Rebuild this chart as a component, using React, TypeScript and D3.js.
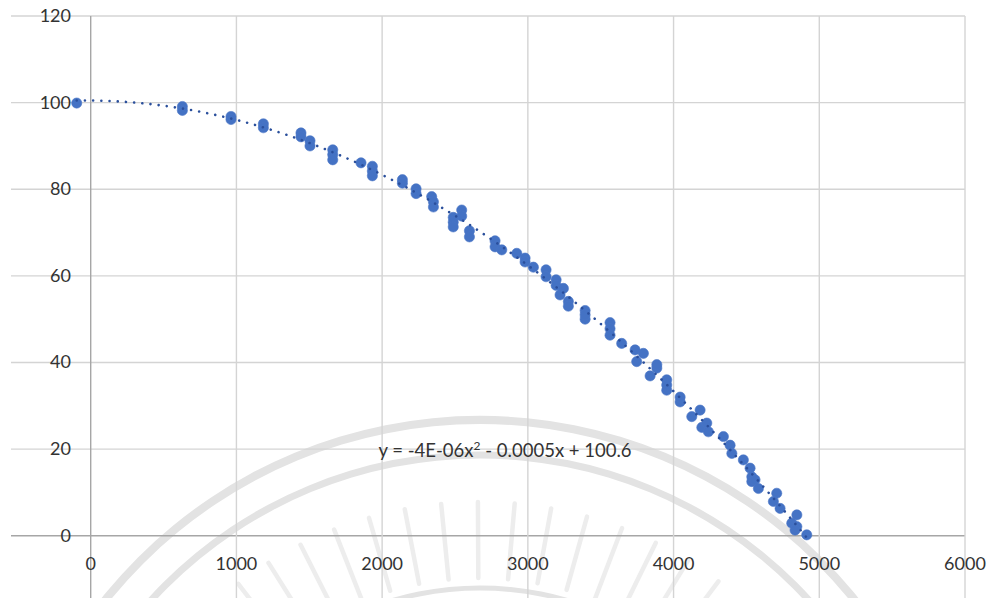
import React, { useRef, useEffect } from "react";
import * as d3 from "d3";

const fontFamily = "Lato, 'Open Sans', sans-serif";

// scatter points
const xValues = [
  -96, 629, 629, 963, 963, 1185, 1185, 1443, 1443, 1505, 1505, 1661, 1661, 1661,
  1855, 1933, 1933, 1933, 2139, 2139, 2233, 2233, 2340, 2352, 2352, 2546, 2546,
  2488, 2488, 2488, 2599, 2599, 2775, 2775, 2821, 2924, 2981, 2981, 3038, 3125,
  3125, 3194, 3194, 3244, 3221, 3278, 3278, 3393, 3393, 3393, 3564, 3564, 3564,
  3644, 3736, 3793, 3747, 3885, 3885, 3839, 3953, 3953, 3953, 4045, 4045, 4182,
  4125, 4194, 4228, 4239, 4342, 4388, 4400, 4479, 4525, 4537, 4537, 4559, 4582,
  4708, 4685, 4731, 4846, 4811, 4846, 4834, 4914
];
const yValues = [
  99.9, 99.1, 98.2, 96.8, 96.1, 95.1, 94.2, 93.0, 92.1, 91.2, 90.0, 89.1, 88.0, 86.8,
  86.1, 85.3, 84.2, 83.1, 82.2, 81.4, 80.1, 79.0, 78.3, 77.1, 75.9, 75.2, 73.8,
  73.5, 72.4, 71.3, 70.4, 69.0, 68.1, 66.7, 66.0, 65.2, 64.1, 63.2, 62.0, 61.4,
  59.8, 59.1, 57.8, 57.1, 55.6, 54.1, 53.0, 52.0, 50.0, 51.0, 49.2, 47.8, 46.3,
  44.4, 42.9, 42.1, 40.2, 38.7, 39.5, 36.9, 36.0, 33.6, 34.8, 30.9, 32.0, 29.0,
  27.5, 25.0, 26.0, 24.0, 22.9, 20.9, 19.0, 17.5, 15.6, 13.6, 12.5, 12.9, 10.9,
  9.8, 7.9, 6.3, 4.8, 2.9, 2.1, 1.3, 0.2
];

const xTicks = [0, 1000, 2000, 3000, 4000, 5000, 6000];
const yTicks = [0, 20, 40, 60, 80, 100, 120];
const equation = ["y = -4E-06x", "2", " - 0.0005x + 100.6"];

// least squares quadratic fit (Excel polynomial trendline)
function quadFit(xs: number[], ys: number[]) {
  const s = [0, 0, 0, 0, 0];
  const t = [0, 0, 0];
  xs.forEach((x, i) => {
    for (let k = 0; k < 5; k++) s[k] += Math.pow(x, k);
    for (let k = 0; k < 3; k++) t[k] += ys[i] * Math.pow(x, k);
  });
  const m = [
    [s[0], s[1], s[2], t[0]],
    [s[1], s[2], s[3], t[1]],
    [s[2], s[3], s[4], t[2]]
  ];
  for (let i = 0; i < 3; i++) {
    for (let j = i + 1; j < 3; j++) {
      const f = m[j][i] / m[i][i];
      for (let k = i; k < 4; k++) m[j][k] -= f * m[i][k];
    }
  }
  const c = [0, 0, 0];
  for (let i = 2; i >= 0; i--) {
    let v = m[i][3];
    for (let k = i + 1; k < 3; k++) v -= m[i][k] * c[k];
    c[i] = v / m[i][i];
  }
  return (x: number) => c[0] + c[1] * x + c[2] * x * x;
}

export default function App() {
  const ref = useRef<SVGSVGElement>(null);
  const width = 991;
  const height = 598;

  useEffect(() => {
    const svg = d3.select(ref.current);
    svg.selectAll("*").remove();

    const x = d3.scaleLinear().domain([0, 6000]).range([90.7, 965]);
    const y = d3.scaleLinear().domain([0, 120]).range([535.7, 16]);
    const gridLeft = 11;

    svg.append("rect").attr("width", width).attr("height", height).attr("fill", "#fff");

    // faint watermark seal
    const wm = svg.append("g").attr("transform", "translate(480,900)");
    const arc = d3.arc<any>();
    [[480, 8], [445, 7], [312, 5]].forEach(([r, w]) => {
      wm.append("path")
        .attr("d", arc({ innerRadius: r - w / 2, outerRadius: r + w / 2, startAngle: -Math.PI / 2, endAngle: Math.PI / 2 }) as string)
        .attr("fill", "#e3e3e3");
    });
    d3.range(-48, 49, 5.3).forEach(a => {
      const rad = (a * Math.PI) / 180;
      wm.append("line")
        .attr("x1", Math.sin(rad) * 398)
        .attr("y1", -Math.cos(rad) * 398)
        .attr("x2", Math.sin(rad) * 322)
        .attr("y2", -Math.cos(rad) * 322)
        .attr("stroke", "#ededed")
        .attr("stroke-width", 4.5)
        .attr("stroke-linecap", "round");
    });

    // grid
    svg.append("g")
      .selectAll("line")
      .data(yTicks)
      .join("line")
      .attr("x1", gridLeft)
      .attr("x2", x(6000))
      .attr("y1", d => y(d))
      .attr("y2", d => y(d))
      .attr("stroke", d => (d === 0 ? "#a6a6a6" : "#d4d4d4"))
      .attr("stroke-width", 1.4);
    svg.append("g")
      .selectAll("line")
      .data(xTicks)
      .join("line")
      .attr("x1", d => x(d))
      .attr("x2", d => x(d))
      .attr("y1", y(120))
      .attr("y2", height)
      .attr("stroke", d => (d === 0 ? "#a6a6a6" : "#d4d4d4"))
      .attr("stroke-width", 1.4);

    // tick labels
    svg.append("g")
      .selectAll("text")
      .data(yTicks)
      .join("text")
      .attr("x", 71)
      .attr("y", d => y(d) + 6)
      .attr("text-anchor", "end")
      .attr("font-family", fontFamily)
      .attr("font-size", 18)
      .attr("fill", "#333")
      .text(d => d);
    svg.append("g")
      .selectAll("text")
      .data(xTicks)
      .join("text")
      .attr("x", d => x(d))
      .attr("y", 570)
      .attr("text-anchor", "middle")
      .attr("font-family", fontFamily)
      .attr("font-size", 18)
      .attr("fill", "#333")
      .text(d => d);

    // trendline
    const fit = quadFit(xValues, yValues);
    const xExt = d3.extent(xValues) as [number, number];
    const line = d3.line<number>().x(d => x(d)).y(d => y(fit(d)));
    const samples = d3.range(xExt[0], xExt[1], 20).concat([xExt[1]]);

    // points
    svg.append("g")
      .selectAll("circle")
      .data(xValues)
      .join("circle")
      .attr("cx", d => x(d))
      .attr("cy", (d, i) => y(yValues[i]))
      .attr("r", 5.1)
      .attr("fill", "#4472C4")
      .attr("stroke", "#4a76c6")
      .attr("stroke-width", 0.6);

    svg.append("path")
      .attr("d", line(samples) as string)
      .attr("fill", "none")
      .attr("stroke", "#2A4F9C")
      .attr("stroke-width", 2.6)
      .attr("stroke-linecap", "round")
      .attr("stroke-dasharray", "0.01 8.2");

    // equation label
    const eq = svg.append("text")
      .attr("x", 505)
      .attr("y", 457)
      .attr("text-anchor", "middle")
      .attr("font-family", fontFamily)
      .attr("font-size", 18.5)
      .attr("fill", "#333");
    eq.append("tspan").text(equation[0]);
    eq.append("tspan").attr("dy", -7).attr("font-size", 12).text(equation[1]);
    eq.append("tspan").attr("dy", 7).text(equation[2]);
  }, []);

  return (
    <svg
      ref={ref}
      width={width}
      height={height}
      style={{ position: "absolute", left: 0, top: 0, display: "block" }}
    />
  );
}
